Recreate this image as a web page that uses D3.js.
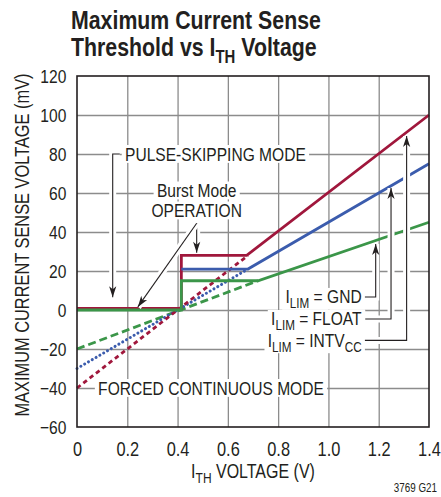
<!DOCTYPE html>
<html>
<head>
<meta charset="utf-8">
<script src="https://cdn.jsdelivr.net/npm/d3@7"></script>
<style>
body { margin: 0; background: #fff; }
text { font-family: "Liberation Sans", Arial, sans-serif; fill: #231f20; }
</style>
</head>
<body>
<div class="chart"></div>
<script>
var xTicks = [0, 0.2, 0.4, 0.6, 0.8, 1.0, 1.2, 1.4];
var xTickLabels = ["0", "0.2", "0.4", "0.6", "0.8", "1.0", "1.2", "1.4"];
var yTicks = [-60, -40, -20, 0, 20, 40, 60, 80, 100, 120];

// ITH (V), sense voltage (mV)
var intvccLine = [[0, 0.8], [0.415, 0.8], [0.415, 28], [0.675, 28], [1.4, 100]];
var floatLine = [[0.415, 21], [0.68, 21], [1.4, 75]];
var gndLine = [[0, 0], [0.415, 0], [0.415, 15], [0.72, 15], [1.4, 45]];
var intvccForced = [[0, -40], [0.68, 28]];
var floatForced = [[0, -30], [0.68, 21]];
var gndForced = [[0, -20], [0.72, 15]];

var red = "#a0173c", blue = "#3b5cad", green = "#3b9649";
var narrow = 0.82; // condensed look, no narrow font installed

var svgWidth = 441, svgHeight = 497;
var margin = { top: 76, right: 12, bottom: 70, left: 77 };
var width = svgWidth - margin.left - margin.right;
var height = svgHeight - margin.top - margin.bottom;

var svg = d3.select(".chart").append("svg")
    .attr("width", svgWidth)
    .attr("height", svgHeight);

var chart = svg.append("g")
    .attr("transform", "translate(" + margin.left + "," + margin.top + ")");

var x = d3.scaleLinear().domain([0, 1.4]).range([0, width]);
var y = d3.scaleLinear().domain([-60, 120]).range([height, 0]);

// grid
chart.append("g")
    .attr("transform", "translate(0," + height + ")")
    .call(d3.axisBottom(x).tickValues(xTicks.slice(1, -1)).tickSize(-height).tickFormat(""))
    .call(function(g) { g.select(".domain").remove(); })
    .selectAll("line").attr("stroke", "#8c8c8c").attr("stroke-width", 1.3);
chart.append("g")
    .call(d3.axisLeft(y).tickValues(yTicks.slice(1, -1)).tickSize(-width).tickFormat(""))
    .call(function(g) { g.select(".domain").remove(); })
    .selectAll("line").attr("stroke", "#8c8c8c").attr("stroke-width", 1.3);

// tick labels
chart.append("g")
    .attr("transform", "translate(0," + height + ")")
    .call(d3.axisBottom(x).tickValues(xTicks).tickSize(0).tickPadding(11)
        .tickFormat(function(d, i) { return xTickLabels[i]; }))
    .call(function(g) { g.select(".domain").remove(); })
    .selectAll("text").attr("font-size", 20).attr("font-family", null)
    .attr("dy", "0.9em").attr("transform", "scale(" + narrow + ",1)");
chart.append("g")
    .call(d3.axisLeft(y).tickValues(yTicks).tickSize(0).tickPadding(13)
        .tickFormat(function(d) { return d < 0 ? "\u2212" + Math.abs(d) : d; }))
    .call(function(g) { g.select(".domain").remove(); })
    .selectAll("text").attr("font-size", 19).attr("font-family", null)
    .attr("transform", "scale(" + narrow + ",1)");

var line = d3.line()
    .x(function(d) { return x(d[0]); })
    .y(function(d) { return y(d[1]); });

function drawLine(data, color, dash, cap, w) {
    chart.append("path")
        .datum(data)
        .attr("d", line)
        .attr("fill", "none")
        .attr("stroke", color)
        .attr("stroke-width", w || 2.8)
        .attr("stroke-dasharray", dash)
        .attr("stroke-linecap", cap || "butt");
}

drawLine(gndForced, green, "8,4");
drawLine(floatForced, blue, "0.1,4.3", "round", 3);
drawLine(intvccForced, red, "4.5,3.5");
drawLine(intvccLine, red, null);
drawLine(floatLine, blue, null);
drawLine(gndLine, green, null);

// leaders and arrows
var leaders = chart.append("g");

function leader(pts, arrow) {
    var p = pts.map(function(d) { return [x(d[0]), y(d[1])]; });
    leaders.append("polyline").attr("points", p.join(" "))
        .attr("fill", "none").attr("stroke", "#fff").attr("stroke-width", 7);
    leaders.append("polyline").attr("points", p.join(" "))
        .attr("fill", "none").attr("stroke", "#231f20").attr("stroke-width", 1.1);
    if (arrow) {
        var a = p[p.length - 1], b = p[p.length - 2];
        var ang = Math.atan2(a[1] - b[1], a[0] - b[0]) * 180 / Math.PI;
        leaders.append("path")
            .attr("d", "M0,0L-11,-3.6L-8,0L-11,3.6Z")
            .attr("transform", "translate(" + a[0] + "," + a[1] + ")rotate(" + ang + ")")
            .attr("fill", "#231f20");
    }
}

leader([[0.17, 80], [0.142, 80], [0.142, 6.5]], true);
leader([[0.476, 44.5], [0.476, 29.4]], true);
leader([[0.476, 44.5], [0.242, 1.6]], true);
leader([[1.14, 6.7], [1.188, 6.7], [1.188, 33.8]], true);
leader([[1.14, -4.6], [1.249, -4.6], [1.249, 62.6]], true);
leader([[1.14, -15.6], [1.311, -15.6], [1.311, 89.2]], true);

// narrow text placed at px,py
function ntext(parent, px, py, anchor, size, extra) {
    return parent.append("text")
        .attr("transform", "translate(" + px + "," + py + ")" + (extra || "") + "scale(" + narrow + ",1)")
        .attr("text-anchor", anchor)
        .attr("font-size", size);
}

function addParts(t, parts) {
    parts.forEach(function(p) {
        var s = t.append("tspan").text(p.t);
        if (p.sub) s.attr("font-size", "75%").attr("dy", 5);
        if (p.up) s.attr("dy", -5);
    });
}

// labels on white boxes
function label(px, py, anchor, parts) {
    var g = chart.append("g")
        .attr("transform", "translate(" + px + "," + py + ")scale(" + narrow + ",1)");
    var t = g.append("text").attr("text-anchor", anchor).attr("font-size", 19);
    addParts(t, parts);
    var bb = t.node().getBBox();
    g.insert("rect", "text")
        .attr("x", bb.x - 4).attr("y", bb.y + 2)
        .attr("width", bb.width + 8).attr("height", bb.height - 4)
        .attr("fill", "#fff");
}

label(x(0.191), y(80) + 6.5, "start", [{ t: "PULSE-SKIPPING MODE" }]);
label(x(0.476), y(80) + 43, "middle", [{ t: "Burst Mode" }]);
label(x(0.476), y(80) + 63, "middle", [{ t: "OPERATION" }]);
label(x(0.084), y(-40) + 6.5, "start", [{ t: "FORCED CONTINUOUS MODE" }]);
label(x(1.132), y(6.7) + 6.5, "end", [{ t: "I" }, { t: "LIM", sub: true }, { t: " = GND", up: true }]);
label(x(1.132), y(-4.6) + 6.5, "end", [{ t: "I" }, { t: "LIM", sub: true }, { t: " = FLOAT", up: true }]);
label(x(1.132), y(-15.6) + 6.5, "end", [{ t: "I" }, { t: "LIM", sub: true }, { t: " = INTV", up: true }, { t: "CC", sub: true }]);

// frame
chart.append("rect")
    .attr("width", width).attr("height", height)
    .attr("fill", "none").attr("stroke", "#231f20").attr("stroke-width", 1.6);

// axis titles
var xt = ntext(svg, margin.left + width / 2, 478, "middle", 19.5);
addParts(xt, [{ t: "I" }, { t: "TH", sub: true }, { t: " VOLTAGE (V)", up: true }]);

ntext(svg, 29, 245, "middle", 20, "rotate(-90)")
    .text("MAXIMUM CURRENT SENSE VOLTAGE (mV)");

ntext(svg, 437, 492, "end", 12).text("3769 G21");

// title
var t1 = ntext(svg, 71, 29, "start", 26).attr("font-weight", "bold");
t1.text("Maximum Current Sense");
var t2 = ntext(svg, 71, 56, "start", 26).attr("font-weight", "bold");
t2.append("tspan").text("Threshold vs I");
t2.append("tspan").text("TH").attr("font-size", "70%").attr("dy", 7);
t2.append("tspan").text(" Voltage").attr("dy", -7);
</script>
</body>
</html>
